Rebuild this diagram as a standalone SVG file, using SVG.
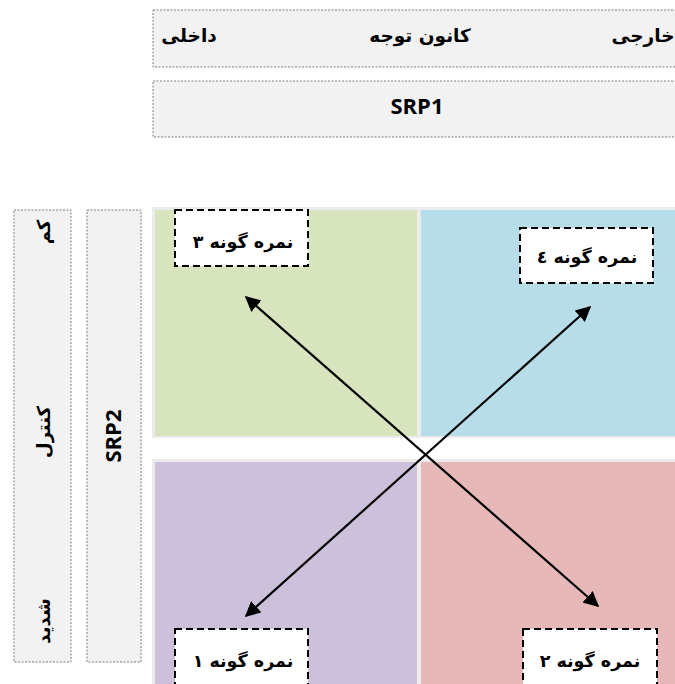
<svg xmlns="http://www.w3.org/2000/svg" width="675" height="684" viewBox="0 0 675 684">
  <style>
    .band { fill: #f2f2f2; stroke: #7f7f7f; stroke-width: 1; stroke-dasharray: 2 1.5; }
    .fa { font-family: "DejaVu Sans", "Noto Sans", sans-serif; font-weight: bold; fill: #000; }
    .lat { font-family: "Open Sans", "Liberation Sans", sans-serif; font-weight: bold; fill: #000; }
    .tag { fill: #ffffff; stroke: #000; stroke-width: 2; stroke-dasharray: 7 4; }
    .arrow { stroke: #000; stroke-width: 2.2; fill: none; marker-start: url(#head); marker-end: url(#head); }
  </style>
  <defs>
    <marker id="head" viewBox="0 0 10 10" refX="9" refY="5" markerWidth="7" markerHeight="7" orient="auto-start-reverse" markerUnits="strokeWidth">
      <path d="M0,0 L10,5 L0,10 z" fill="#000"/>
    </marker>
  </defs>

  <rect width="675" height="684" fill="#ffffff"/>

  <!-- top axis: focus of attention -->
  <g id="focus">
    <rect class="band" x="153" y="10" width="530" height="57"/>
    <text class="fa" x="189" y="42" font-size="18.5" text-anchor="middle">داخلی</text>
    <text class="fa" x="420" y="42" font-size="18.5" text-anchor="middle">کانون توجه</text>
    <text class="fa" x="643" y="42" font-size="18.5" text-anchor="middle">خارجی</text>
  </g>
  <g id="srp1">
    <rect class="band" x="153" y="81" width="530" height="56"/>
    <text class="lat" x="417" y="114" font-size="22" text-anchor="middle">SRP1</text>
  </g>

  <!-- left axis: control -->
  <g id="control">
    <rect class="band" x="14" y="210" width="57" height="452"/>
    <text class="fa" font-size="18" text-anchor="middle" transform="translate(50,232) rotate(-90)">کم</text>
    <text class="fa" font-size="18" text-anchor="middle" transform="translate(50,432) rotate(-90)">کنترل</text>
    <text class="fa" font-size="18" text-anchor="middle" transform="translate(50,621) rotate(-90)">شدید</text>
  </g>
  <g id="srp2">
    <rect class="band" x="87" y="210" width="54" height="452"/>
    <text class="lat" font-size="22" text-anchor="middle" transform="translate(121,436) rotate(-90)">SRP2</text>
  </g>

  <!-- quadrant backdrops -->
  <rect x="152" y="207" width="523" height="231" fill="#ececec"/>
  <rect x="152" y="459" width="523" height="225" fill="#ececec"/>

  <g id="quadrant3"><rect x="155" y="210" width="262" height="226" fill="#d7e4bd"/></g>
  <g id="quadrant4"><rect x="421" y="210" width="254" height="226" fill="#b7dde8"/></g>
  <g id="quadrant1"><rect x="155" y="462" width="262" height="222" fill="#ccc0da"/></g>
  <g id="quadrant2"><rect x="421" y="462" width="254" height="222" fill="#e6b9b8"/></g>

  <!-- diagonal connectors -->
  <g id="connectors">
    <line class="arrow" x1="246" y1="297" x2="598" y2="606"/>
    <line class="arrow" x1="246" y1="616" x2="590" y2="307"/>
  </g>

  <!-- type labels -->
  <g id="type3">
    <rect class="tag" x="175" y="210" width="133" height="56"/>
    <text class="fa" x="243" y="248" font-size="17.5" text-anchor="middle">نمره گونه ٣</text>
  </g>
  <g id="type4">
    <rect class="tag" x="520" y="228" width="133" height="55"/>
    <text class="fa" x="587" y="263" font-size="17.5" text-anchor="middle">نمره گونه ٤</text>
  </g>
  <g id="type1">
    <rect class="tag" x="175" y="629" width="133" height="62"/>
    <text class="fa" x="243" y="667" font-size="17.5" text-anchor="middle">نمره گونه ١</text>
  </g>
  <g id="type2">
    <rect class="tag" x="523" y="629" width="134" height="62"/>
    <text class="fa" x="590" y="667" font-size="17.5" text-anchor="middle">نمره گونه ٢</text>
  </g>
</svg>
